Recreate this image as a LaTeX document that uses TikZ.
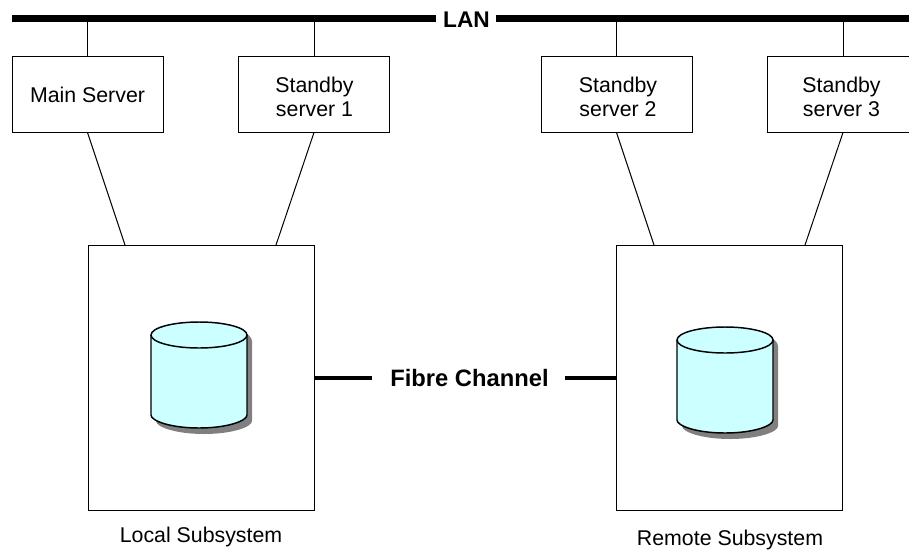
\documentclass[tikz,border=0pt]{standalone}
\usepackage{fontspec}
\setmainfont{Liberation Sans}
\usetikzlibrary{calc}
\definecolor{diskfill}{HTML}{CCFFFF}
\definecolor{diskshadow}{HTML}{808080}
\newlength{\pxu}
\setlength{\pxu}{0.75pt}
\tikzset{
  server/.style={draw=black,line width=0.75pt,minimum width=151\pxu,minimum height=76\pxu,inner sep=0pt},
  servertext/.style={inner sep=0pt,align=center,font=\fontsize{16}{17.6}\selectfont},
  subsys/.style={draw=black,line width=0.75pt,minimum width=226\pxu,minimum height=265\pxu,inner sep=0pt},
  caption/.style={font=\fontsize{16}{19}\selectfont,inner sep=0pt},
  thin link/.style={line width=0.75pt},
  thick link/.style={line width=3.4pt},
  bus/.style={line width=4.6pt},
  heavy label/.style={font=\bfseries\fontsize{17}{20}\selectfont,inner sep=0pt},
  channel label/.style={font=\bfseries\fontsize{17.8}{20}\selectfont,inner sep=0pt},
  disk/.pic={
    \fill[diskshadow] (5,19) -- (5,99)
       .. controls (5,105) and (25,112) .. (53,112) .. controls (81,112) and (101,105) .. (101,99) -- (101,19)
       .. controls (101,10) and (80,5) .. (53,5) .. controls (26,5) and (5,10) .. (5,19) -- cycle;
    \draw[fill=diskfill,line width=1.1pt] (0,13) -- (0,93)
       .. controls (0,99) and (20,106) .. (48,106) .. controls (76,106) and (96,99) .. (96,93) -- (96,13);
    \draw[fill=diskfill,line width=1.1pt] (48,13) ellipse [x radius=48,y radius=13];
  }
}
\begin{document}
\begin{tikzpicture}[x=0.75pt,y=-0.75pt]
\useasboundingbox (0,0) rectangle (909,550);
\clip (0,0) rectangle (909,550);
% LAN
\node[heavy label] (lan) at (466.5,20) {LAN};
\coordinate (busL) at (12,18.5);
\coordinate (busLe) at (436,18.5);
\coordinate (busRs) at (496,18.5);
\coordinate (busR) at (909,18.5);
\draw[bus] (busL) -- (busLe);
\draw[bus] (busRs) -- (busR);
% servers
\node[server] (main) at (87.5,94) {};
\node[server] (s1) at (314,94) {};
\node[server] (s2) at (616.5,94) {};
\node[server] (s3) at (843,94) {};
\node[servertext] (t0) at (87.5,95) {Main Server};
\node[servertext] (t1) at (314.5,97) {Standby\\server 1};
\node[servertext] (t2) at (618,97) {Standby\\server 2};
\node[servertext] (t3) at (841.5,97) {Standby\\server 3};
\foreach \n in {main,s1,s2,s3}
  \draw[thin link] (\n.north) -- (\n.north |- busL);
% subsystems
\node[subsys] (local) at (201,377.5) {};
\node[subsys] (remote) at (729,377.5) {};
\coordinate (la) at (125,245);
\coordinate (lb) at (276,245);
\coordinate (ra) at (654,245);
\coordinate (rb) at (805,245);
\draw[thin link] (main.south) -- (la);
\draw[thin link] (s1.south) -- (lb);
\draw[thin link] (s2.south) -- (ra);
\draw[thin link] (s3.south) -- (rb);
% disks
\pic at (151,322) {disk};
\pic at (677,327) {disk};
% fibre channel
\node[channel label] (fc) at (469.5,378) {Fibre Channel};
\coordinate (fa) at (372,378);
\coordinate (fb) at (565,378);
\draw[thick link] (local.east |- fa) -- (fa);
\draw[thick link] (fb) -- (remote.west |- fb);
% captions
\node[caption] (lc) at (201,537) {Local Subsystem};
\node[caption] (rc) at (730,540) {Remote Subsystem};
\end{tikzpicture}
\end{document}
